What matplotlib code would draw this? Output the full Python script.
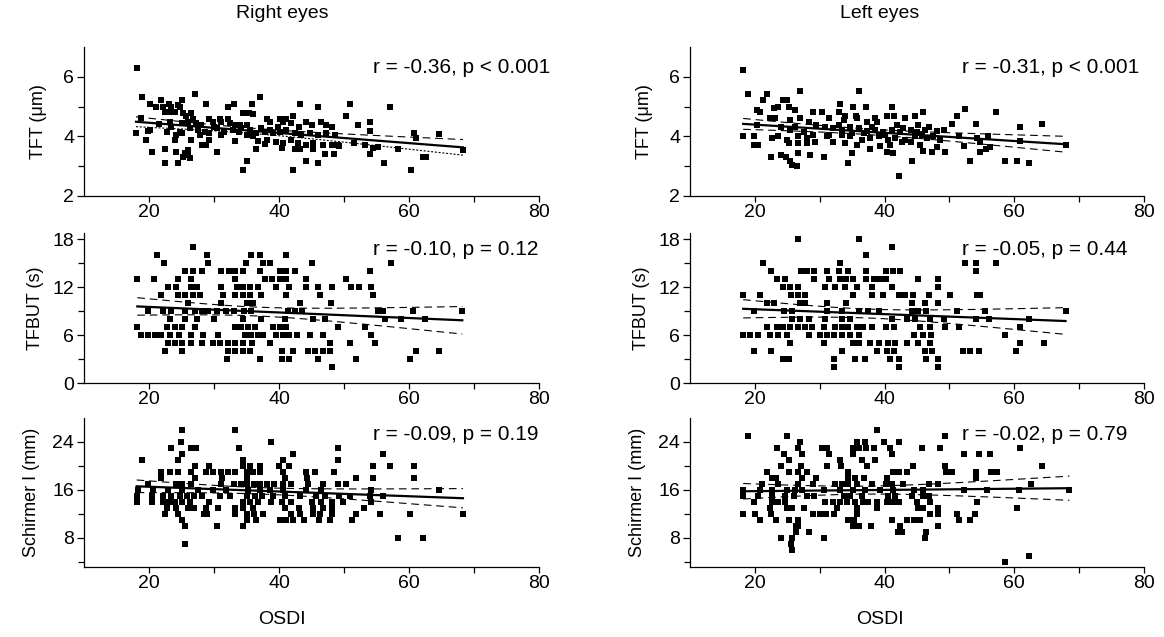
import numpy as np
import matplotlib
matplotlib.use("Agg")
import matplotlib.pyplot as plt
from matplotlib.ticker import FixedLocator

plt.rcParams['font.family'] = ['Liberation Sans', 'DejaVu Sans']
plt.rcParams['lines.scale_dashes'] = False

# ---------------- data: (OSDI, measurement) pairs ----------------
# Right eyes, tear film thickness (um)
right_tft_osdi = [
    18.2, 18.9, 20.2, 21.0, 21.9, 22.2, 23.0, 23.4, 24.5, 25.0, 24.7, 27.0, 28.8, 32.2, 33.0,
    35.9, 37.0, 43.2, 46.0, 50.9, 57.1,
    22.4, 23.2, 24.0, 25.2, 26.5, 34.5, 35.4, 36.0,
    25.7, 26.8, 29.3, 30.9, 32.2, 38.1, 40.1, 41.0, 42.2, 50.3,
    18.8, 23.2, 25.0, 26.0, 27.3, 29.8, 31.1, 33.2, 34.0, 35.0, 38.6, 40.6, 41.9, 44.2, 45.0,
    46.5, 47.3, 48.1, 52.2, 54.0,
    20.1, 23.4, 24.7, 26.3, 27.5, 28.6, 30.4, 31.6, 32.9, 34.2, 35.5, 36.5, 37.8, 39.1, 40.1,
    41.1, 42.4, 43.4, 44.7, 46.0, 47.3, 48.6, 18.0, 19.9, 54.0, 60.7,
    24.2, 25.0, 27.8, 29.3, 33.2, 36.0, 36.8, 38.1, 39.6, 40.6, 41.9, 42.9, 44.2, 45.2, 46.8,
    48.1, 49.1, 51.6, 53.2, 54.5, 19.6, 24.0, 26.5, 29.3,
    20.5, 22.4, 24.2, 25.5, 26.0, 28.1, 28.8, 30.5, 36.5, 37.8, 40.4, 42.4, 43.2, 45.2, 47.0,
    48.4, 49.2, 54.0, 55.2, 58.3, 62.2,
    25.3, 26.3, 26.0,
    22.4, 24.5, 35.0, 44.2, 46.0, 56.1,
    34.5, 42.1, 60.3,
    62.6, 64.6, 68.3, 61.1,
    30.0, 31.0, 33.8, 35.0, 37.2, 38.6, 39.8, 43.0, 21.5, 22.7, 28.0, 32.5,
]
right_tft = [
    6.30, 5.31, 5.08, 4.98, 5.21, 5.00, 5.08, 4.98, 5.04, 5.21, 4.98, 5.42, 5.09, 5.00, 5.08,
    5.08, 5.31, 5.09, 5.00, 5.09, 5.00,
    4.81, 4.81, 4.81, 4.80, 4.80, 4.80, 4.80, 4.75,
    4.69, 4.60, 4.60, 4.60, 4.60, 4.60, 4.60, 4.60, 4.69, 4.69,
    4.61, 4.50, 4.44, 4.50, 4.44, 4.50, 4.50, 4.39, 4.39, 4.39, 4.50, 4.50, 4.44, 4.50, 4.39,
    4.50, 4.39, 4.30, 4.39, 4.50,
    4.22, 4.30, 4.16, 4.27, 4.22, 4.16, 4.27, 4.16, 4.22, 4.27, 4.22, 4.11, 4.16, 4.11, 4.16,
    4.22, 4.11, 4.05, 4.11, 4.05, 4.11, 4.05, 4.11, 4.19, 4.19, 4.11,
    4.05, 4.11, 4.05, 4.11, 3.85, 4.00, 3.83, 3.88, 3.80, 3.77, 3.88, 3.77, 3.72, 3.77, 3.72,
    3.72, 3.70, 3.77, 3.72, 3.60, 3.88, 3.88, 3.88, 3.88,
    3.49, 3.58, 3.49, 3.43, 3.55, 3.72, 3.72, 3.49, 3.58, 3.74, 3.60, 3.58, 3.58, 3.58, 3.40,
    3.40, 3.69, 3.40, 3.66, 3.58, 3.32,
    3.32, 3.27, 3.38,
    3.10, 3.10, 3.18, 3.18, 3.10, 3.10,
    2.87, 2.87, 2.87,
    3.30, 4.09, 3.53, 3.94,
    4.33, 4.05, 4.16, 4.05, 4.27, 4.22, 4.30, 4.30, 4.40, 4.16, 4.39, 4.44,
]

# Left eyes, tear film thickness (um)
left_tft_osdi = [
    18.2, 18.9, 21.9, 21.2, 27.0, 36.0, 24.4, 25.0, 20.3, 20.8, 22.9, 23.6, 25.2, 26.2,
    33.1, 35.2, 37.1, 41.1,
    28.9, 30.3, 32.9, 33.9, 35.6, 38.5, 40.4, 41.4, 43.2, 44.7, 46.0, 51.2, 52.4, 57.2,
    22.3, 23.1, 25.4, 27.0, 28.3, 31.4, 33.7, 35.7, 37.3, 38.8, 41.9, 45.2, 46.8, 50.4, 54.1, 60.9,
    20.3, 24.1, 25.4, 26.2, 27.5, 29.5, 30.8, 32.1, 33.4, 34.7, 36.0, 37.3, 38.6, 39.8, 41.1,
    42.4, 44.0, 45.0, 46.3, 48.1, 49.1,
    18.2, 19.8, 22.6, 23.6, 24.9, 26.7, 28.0, 31.1, 33.4, 34.7, 36.5, 37.8, 39.1, 40.6, 41.6,
    43.2, 44.7, 46.5, 48.6, 51.4, 54.2, 56.0,
    19.8, 20.5, 25.2, 26.7, 28.0, 29.3, 32.1, 33.9, 35.7, 39.3, 40.9, 42.7, 44.0, 45.5, 48.1,
    52.2, 54.7, 56.2,
    22.5, 24.1, 24.8, 26.7, 28.5, 30.6, 35.0, 37.8, 40.4, 41.3, 46.0, 47.3, 49.3, 54.7, 55.7,
    25.4, 25.7, 26.5, 34.4, 44.2, 53.2, 58.6, 60.4, 62.2,
    42.2,
    64.2, 67.9, 60.9, 60.9,
    31.5, 36.8, 38.0, 40.0, 42.8, 45.8, 47.5, 33.0, 35.0, 29.0,
]
left_tft = [
    6.22, 5.42, 5.42, 5.23, 5.53, 5.53, 5.23, 5.23, 4.89, 4.81, 4.95, 5.00, 5.00, 4.89,
    5.09, 5.00, 5.00, 5.00,
    4.81, 4.81, 4.81, 4.67, 4.67, 4.61, 4.70, 4.70, 4.61, 4.70, 4.81, 4.70, 4.91, 4.81,
    4.61, 4.61, 4.56, 4.61, 4.50, 4.61, 4.56, 4.61, 4.50, 4.50, 4.39, 4.39, 4.33, 4.41, 4.41, 4.33,
    4.39, 4.33, 4.22, 4.33, 4.16, 4.39, 4.33, 4.27, 4.22, 4.33, 4.27, 4.19, 4.22, 4.16, 4.22,
    4.16, 4.22, 4.14, 4.22, 4.19, 4.22,
    4.00, 4.00, 3.94, 4.00, 3.88, 4.00, 3.94, 4.00, 4.05, 4.00, 3.88, 3.94, 4.00, 3.88, 3.96,
    3.88, 4.00, 3.94, 3.88, 4.00, 3.94, 4.00,
    3.71, 3.71, 3.77, 3.77, 3.77, 3.80, 3.80, 3.77, 3.71, 3.69, 3.71, 3.80, 3.80, 3.71, 3.66,
    3.69, 3.80, 3.63,
    3.32, 3.38, 3.32, 3.43, 3.38, 3.32, 3.43, 3.58, 3.49, 3.43, 3.51, 3.49, 3.49, 3.49, 3.58,
    3.18, 3.04, 2.99, 3.10, 3.18, 3.18, 3.18, 3.18, 3.10,
    2.68,
    4.40, 3.70, 4.31, 3.83,
    4.05, 4.11, 4.33, 4.05, 4.27, 4.05, 4.00, 4.39, 4.11, 4.05,
]

# Right eyes, tear film break-up time (s)
right_tfbut_osdi = [
    26.7,
    21.2, 28.9, 35.7, 37.1, 41.0,
    22.3, 29.1, 34.9, 37.6, 38.6, 45.1, 57.2,
    25.5, 26.8, 28.1, 31.1, 32.3, 33.3, 34.5, 37.1, 40.1, 41.1, 42.4, 54.0,
    18.2, 20.8, 24.5, 26.5, 33.3, 37.8, 38.9, 40.1, 41.1, 44.2, 50.3,
    22.9, 24.2, 26.5, 27.4, 31.1, 33.5, 34.4, 35.5, 36.8, 39.6, 41.6, 44.2, 46.0, 48.1, 51.0, 52.3, 54.2,
    21.9, 24.5, 25.6, 26.8, 27.8, 31.4, 33.2, 34.4, 35.5, 37.3, 41.1, 46.3, 54.5,
    26.0, 31.1, 35.1, 36.0, 43.2, 48.0,
    19.9, 22.2, 23.4, 25.5, 27.0, 28.1, 29.1, 30.4, 31.9, 33.0, 34.6, 35.7, 41.4, 42.4, 43.6,
    55.3, 56.0, 60.6, 68.2,
    23.2, 25.5, 27.4, 30.0, 34.5, 37.3, 40.9, 45.3, 47.0, 56.3, 58.8, 62.5,
    18.2, 22.8, 24.0, 25.1, 27.0, 33.2, 34.2, 35.2, 36.3, 39.1, 40.1, 41.1, 49.1, 53.2,
    18.8, 19.8, 20.9, 21.9, 23.2, 24.6, 26.5, 28.3, 30.6, 34.7, 35.7, 36.8, 37.6, 39.6, 40.6,
    41.6, 42.7, 44.7, 46.8, 54.2,
    22.9, 24.0, 25.0, 26.5, 28.1, 29.9, 30.9, 32.2, 33.2, 34.5, 35.9, 38.6, 47.9, 50.9, 54.8,
    22.4, 25.0, 32.2, 33.2, 34.4, 35.5, 40.5, 42.1, 44.5, 45.5, 46.8, 47.8, 61.1, 64.6,
    32.0, 37.0, 40.5, 41.5, 46.0, 51.9, 60.1,
    48.1,
]
right_tfbut = (
    [17] * 1 + [16] * 5 + [15] * 7 + [14] * 12 + [13] * 11 + [12] * 17 + [11] * 13
    + [10] * 6 + [9] * 19 + [8] * 12 + [7] * 14 + [6] * 20 + [5] * 15 + [4] * 14
    + [3] * 7 + [2] * 1
)

# Left eyes, tear film break-up time (s)
left_tfbut_osdi = [
    26.7, 36.0,
    41.1,
    37.1,
    21.2, 33.1, 52.4, 54.1, 57.2,
    22.5, 27.1, 28.1, 29.1, 31.2, 33.0, 34.4, 37.1, 40.2, 41.3, 42.4, 54.1,
    23.4, 24.7, 29.1, 31.5, 33.1, 34.1, 35.2, 37.1, 38.3, 39.3, 40.2, 45.2, 48.3,
    24.3, 25.4, 26.7, 30.8, 32.4, 33.9, 35.7, 38.0, 41.1, 48.3,
    18.2, 20.8, 25.5, 26.6, 27.8, 35.2, 38.1, 39.8, 42.2, 43.2, 44.4, 46.8, 50.1, 54.2, 54.7,
    21.9, 23.0, 26.9, 27.8, 31.2, 34.1, 44.3, 46.2, 48.2,
    19.8, 24.5, 25.7, 31.1, 33.4, 36.0, 37.4, 39.1, 44.2, 45.2, 46.4, 51.2, 55.5, 67.9,
    25.8, 27.0, 28.3, 30.8, 33.4, 34.7, 41.1, 43.4, 44.7, 47.0, 49.1, 54.1, 56.1, 62.2,
    21.9, 23.4, 24.4, 25.4, 26.6, 27.8, 28.8, 30.6, 32.4, 33.4, 34.4, 35.7, 36.7, 38.0, 40.2,
    41.4, 45.4, 47.0, 49.3, 51.4, 60.9,
    18.2, 19.3, 20.5, 22.4, 23.6, 24.9, 28.4, 30.1, 31.2, 32.2, 33.4, 34.7, 36.0, 44.6, 45.9,
    47.1, 58.6,
    25.4, 30.6, 35.1, 36.1, 37.8, 39.1, 40.6, 41.6, 43.4, 45.2, 47.0, 60.9, 64.6,
    19.8, 22.5, 33.4, 38.8, 40.4, 41.5, 46.3, 47.3, 52.1, 53.2, 54.5, 60.3,
    24.3, 25.3, 32.2, 35.5, 37.0, 40.8, 42.2, 46.4, 48.2,
    32.2, 42.2, 48.3,
]
left_tfbut = (
    [18] * 2 + [17] * 1 + [16] * 1 + [15] * 5 + [14] * 12 + [13] * 13 + [12] * 10
    + [11] * 15 + [10] * 9 + [9] * 14 + [8] * 14 + [7] * 21 + [6] * 17 + [5] * 13
    + [4] * 12 + [3] * 9 + [2] * 3
)

# Right eyes, Schirmer I test (mm)
right_schirmer_osdi = [
    25.0, 33.3,
    24.9, 38.7,
    23.4, 26.5, 27.3, 33.9, 49.1,
    25.1, 42.2, 56.0,
    18.9, 24.5, 34.4, 40.6, 49.1,
    27.0, 29.3, 34.4, 35.5, 37.1, 40.0, 41.6, 54.5, 57.1, 60.7,
    21.9, 23.2, 24.5, 26.5, 28.7, 29.8, 31.1, 32.2, 33.2, 35.0, 36.0, 37.0, 40.6, 44.2, 45.6, 48.4,
    21.9, 27.1, 31.3, 35.0, 40.9, 44.3, 51.9, 54.5, 60.7,
    19.8, 24.2, 25.1, 26.5, 31.1, 33.0, 34.1, 35.1, 36.1, 37.1, 38.2, 39.2, 40.6, 41.9, 44.5,
    46.8, 49.1, 50.3,
    18.3, 20.6, 22.9, 25.1, 27.5, 29.8, 31.8, 35.2, 37.0, 38.6, 40.6, 44.2, 46.5, 54.2, 64.6,
    18.2, 20.4, 22.2, 23.4, 24.7, 25.8, 26.9, 28.1, 30.9, 32.4, 35.1, 36.3, 37.4, 39.1, 40.9,
    43.2, 45.7, 47.0, 49.2, 50.9, 54.0, 56.0,
    18.1, 20.4, 22.2, 23.1, 24.0, 25.0, 26.3, 29.3, 34.4, 35.5, 36.8, 38.8, 40.4, 41.9, 45.1,
    46.5, 48.1, 49.8, 54.1,
    22.8, 24.1, 26.0, 26.9, 28.8, 30.6, 33.2, 34.4, 36.0, 40.9, 43.0, 45.2, 46.8, 48.1, 53.0,
    22.4, 24.5, 28.4, 28.9, 33.2, 35.0, 36.1, 37.6, 41.9, 43.2, 45.2, 46.3, 48.1, 51.9, 55.5,
    60.2, 68.3,
    25.1, 35.0, 36.5, 40.1, 41.1, 42.2, 43.9, 46.2, 47.8, 51.3,
    25.5, 30.5, 34.5,
    58.3, 62.2,
    25.6,
]
right_schirmer = (
    [26] * 2 + [24] * 2 + [23] * 5 + [22] * 3 + [21] * 5 + [20] * 10 + [19] * 16
    + [18] * 9 + [17] * 18 + [16] * 15 + [15] * 22 + [14] * 19 + [13] * 15 + [12] * 17
    + [11] * 10 + [10] * 3 + [8] * 2 + [7] * 1
)

# Left eyes, Schirmer I test (mm)
left_schirmer_osdi = [
    38.8,
    18.9, 24.9, 49.3,
    27.0, 35.7, 37.0, 39.9, 42.2,
    23.4, 26.7, 30.3, 31.2, 35.1, 36.1, 37.2, 38.3, 40.9, 45.8, 48.6, 60.9,
    24.5, 27.2, 31.5, 35.2, 41.1, 52.2, 54.5, 56.2,
    25.2, 33.1, 36.5, 38.5,
    24.1, 27.1, 31.2, 33.3, 37.3, 44.4, 49.3, 64.2,
    21.9, 25.3, 26.7, 28.0, 34.3, 41.3, 42.3, 43.4, 49.4, 50.4, 54.1, 56.4, 57.3,
    22.6, 23.3, 27.2, 29.4, 34.3, 35.5, 36.8, 40.4, 54.1,
    21.1, 23.6, 26.6, 29.0, 32.4, 33.4, 34.4, 35.7, 38.1, 40.2, 41.1, 42.9, 46.9, 48.3, 62.5,
    18.2, 20.8, 22.6, 24.9, 26.2, 27.2, 30.6, 33.1, 35.2, 37.0, 39.3, 41.3, 44.5, 46.0, 52.2,
    55.8, 60.7, 68.5,
    18.2, 20.5, 22.6, 24.7, 26.0, 28.0, 29.1, 33.7, 34.7, 36.5, 40.6, 41.6, 44.2, 46.0, 46.8,
    19.8, 22.6, 23.6, 24.7, 30.8, 32.0, 33.2, 34.2, 35.5, 36.7, 37.5, 38.8, 40.4, 41.3, 42.3,
    45.0, 47.0, 54.2,
    22.3, 25.0, 25.7, 27.6, 32.6, 35.7, 38.8, 45.2, 46.0, 48.3, 60.4,
    18.2, 20.0, 22.5, 28.9, 30.0, 31.0, 32.2, 35.7, 47.0, 48.2, 51.1, 54.0,
    20.8, 23.3, 25.2, 26.7, 34.4, 35.3, 41.1, 43.4, 44.5, 45.4, 51.4, 53.1,
    26.4, 26.7, 35.1, 36.1, 37.9, 42.4, 48.3,
    26.4, 28.4, 42.0, 42.7, 46.4,
    24.1, 25.8, 30.6, 46.3,
    25.5,
    25.7,
    62.2,
    58.6,
]
left_schirmer = (
    [26] * 1 + [25] * 3 + [24] * 5 + [23] * 12 + [22] * 8 + [21] * 4 + [20] * 8
    + [19] * 13 + [18] * 9 + [17] * 15 + [16] * 18 + [15] * 15 + [14] * 18 + [13] * 11
    + [12] * 12 + [11] * 12 + [10] * 7 + [9] * 5 + [8] * 4 + [7] * 1 + [6] * 1
    + [5] * 1 + [4] * 1
)

stats_labels = [
    ["r = -0.36, p < 0.001", "r = -0.31, p < 0.001"],
    ["r = -0.10, p = 0.12", "r = -0.05, p = 0.44"],
    ["r = -0.09, p = 0.19", "r = -0.02, p = 0.79"],
]
column_titles = ["Right eyes", "Left eyes"]
row_ylabels = ["TFT (\u03bcm)", "TFBUT (s)", "Schirmer I (mm)"]
x_label = "OSDI"

panels = [
    [(right_tft_osdi, right_tft), (left_tft_osdi, left_tft)],
    [(right_tfbut_osdi, right_tfbut), (left_tfbut_osdi, left_tfbut)],
    [(right_schirmer_osdi, right_schirmer), (left_schirmer_osdi, left_schirmer)],
]

# ---------------- layout ----------------
W, H = 1164, 637
fig = plt.figure(figsize=(W / 100, H / 100), dpi=100)
fig.patch.set_facecolor("white")


def px_rect(x0, x1, top, bottom):
    return [x0 / W, 1 - bottom / H, (x1 - x0) / W, (bottom - top) / H]


col_x = [(84, 539), (690, 1144)]
row_y = [(47, 196), (233, 383), (418, 567)]
ylims = [(2, 7), (0, 18.8), (3.1, 28)]
y_major = [[2, 4, 6], [0, 6, 12, 18], [8, 16, 24]]
y_minor = [[3, 5], [3, 9, 15], [4, 12, 20]]
label_x = [-0.081, -0.088, -0.097]
stat_x = [0.636, 0.600]
stat_y = [0.86, 0.89, 0.89]


def fit_with_band(x, y):
    x = np.asarray(x, float)
    y = np.asarray(y, float)
    n = len(x)
    slope, icpt = np.polyfit(x, y, 1)
    xs = np.linspace(x.min(), x.max(), 200)
    yhat = icpt + slope * xs
    resid = y - (icpt + slope * x)
    s = np.sqrt(np.sum(resid ** 2) / (n - 2))
    sxx = np.sum((x - x.mean()) ** 2)
    half = 1.97 * s * np.sqrt(1.0 / n + (xs - x.mean()) ** 2 / sxx)
    return xs, yhat, yhat - half, yhat + half


for r in range(3):
    for c in range(2):
        ax = fig.add_axes(px_rect(col_x[c][0], col_x[c][1], row_y[r][0], row_y[r][1]))
        xv, yv = panels[r][c]
        ax.plot(xv, yv, linestyle="none", marker="s", ms=4.0, mew=0,
                color="black", zorder=3)
        xs, yhat, lo, hi = fit_with_band(xv, yv)
        ax.plot(xs, yhat, color="black", lw=1.6, zorder=4)
        ax.plot(xs, hi, color="black", lw=0.8, dashes=(5.5, 3.5), zorder=4)
        if r == 0 and c == 0:
            ax.plot(xs, lo, color="black", lw=0.8, dashes=(1.5, 1.2), zorder=4)
        else:
            ax.plot(xs, lo, color="black", lw=0.8, dashes=(5.5, 3.5), zorder=4)

        ax.set_xlim(10, 80)
        ax.set_ylim(*ylims[r])
        for side in ("top", "right"):
            ax.spines[side].set_visible(False)
        for side in ("left", "bottom"):
            ax.spines[side].set_linewidth(0.9)
        ax.xaxis.set_major_locator(FixedLocator([20, 40, 60, 80]))
        ax.xaxis.set_minor_locator(FixedLocator([30, 50, 70]))
        ax.yaxis.set_major_locator(FixedLocator(y_major[r]))
        ax.yaxis.set_minor_locator(FixedLocator(y_minor[r]))
        ax.tick_params(axis="both", which="both", direction="out", width=0.9,
                       labelsize=14, pad=2)
        ax.tick_params(axis="x", which="both", length=4)
        ax.tick_params(axis="y", which="major", length=5)
        ax.tick_params(axis="y", which="minor", length=4)
        ax.set_ylabel(row_ylabels[r], fontsize=13)
        ax.yaxis.set_label_coords(label_x[r], 0.5)
        ax.text(stat_x[c], stat_y[r], stats_labels[r][c], transform=ax.transAxes,
                fontsize=15, ha="left", va="center")

fig.text(282 / W, 1 - 14 / H, column_titles[0], fontsize=14, ha="center", va="center")
fig.text(880 / W, 1 - 14 / H, column_titles[1], fontsize=14, ha="center", va="center")
fig.text(282 / W, 1 - 620 / H, x_label, fontsize=14, ha="center", va="center")
fig.text(880 / W, 1 - 620 / H, x_label, fontsize=14, ha="center", va="center")

fig.savefig("out.png", dpi=100)
